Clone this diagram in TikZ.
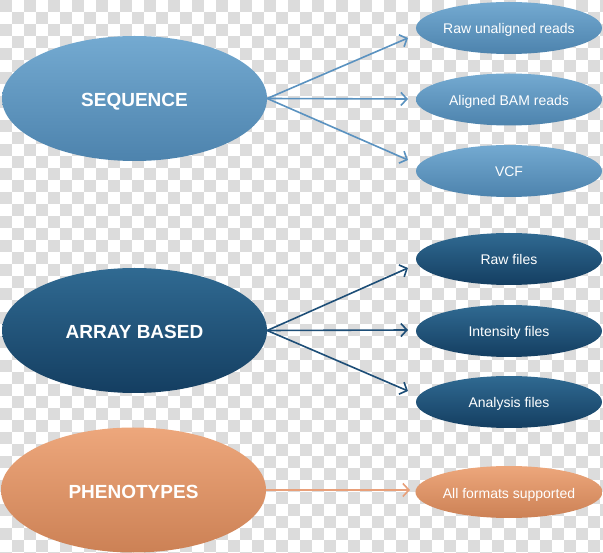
\documentclass[tikz,border=0pt]{standalone}
\usepackage{fontspec}
\setmainfont{Liberation Sans}
\usetikzlibrary{shapes.geometric,arrows.meta}
\definecolor{chk}{HTML}{DCDCDC}
\definecolor{lbTop}{HTML}{74AAD1}
\definecolor{lbBot}{HTML}{4D83AD}
\definecolor{dbTop}{HTML}{306A92}
\definecolor{dbBot}{HTML}{143E61}
\definecolor{orTop}{HTML}{EDA77C}
\definecolor{orBot}{HTML}{CC8155}
\definecolor{lbLine}{HTML}{5A92C0}
\definecolor{dbLine}{HTML}{1D4E77}
\definecolor{orLine}{HTML}{E8A07A}
\tikzset{
  bigell/.style={ellipse, inner sep=0pt, minimum width=265pt, minimum height=125pt,
    text=white, text height=17pt, text depth=0pt, font=\fontsize{19}{19}\selectfont\bfseries},
  smallell/.style={ellipse, inner sep=0pt, minimum width=186pt, minimum height=52pt,
    text=white, text height=13pt, text depth=1pt, font=\fontsize{14}{14}\selectfont},
  light/.style={top color=lbTop, bottom color=lbBot},
  dark/.style={top color=dbTop, bottom color=dbBot},
  orange/.style={top color=orTop, bottom color=orBot},
  conn/.style={line width=1.6pt, -{Straight Barb[length=6pt,width=13pt,line width=1.6pt]}},
}
\begin{document}
\begin{tikzpicture}[x=1pt,y=-1pt]
\useasboundingbox (0,0) rectangle (603,553);
\begin{scope}
\clip (0,0) rectangle (603,553);
\fill[white] (0,0) rectangle (603,553);
\foreach \j in {0,...,46}{
  \foreach \i in {0,...,25}{
    \fill[chk] ({(2*\i+mod(\j,2))*12},{\j*12}) rectangle ++(12,12);
  }
}
\end{scope}

% main ellipses
\node[bigell, light] (seq) at (134.5,98.5) {SEQUENCE};
\node[bigell, dark] (arr) at (134.5,330.5) {ARRAY BASED};
\node[bigell, orange] (phe) at (133.5,490) {PHENOTYPES};

% small ellipses
\node[smallell, light] (r1) at (509,28) {Raw unaligned reads};
\node[smallell, light] (r2) at (509,99.5) {Aligned BAM reads};
\node[smallell, light] (r3) at (509,171) {VCF};
\node[smallell, dark] (a1) at (509,259) {Raw files};
\node[smallell, dark] (a2) at (509,331) {Intensity files};
\node[smallell, dark] (a3) at (509,402) {Analysis files};
\node[smallell, orange] (p1) at (509,492) {All formats supported};

% arrow tips
\coordinate (t1) at (408,38);
\coordinate (t2) at (408,99);
\coordinate (t3) at (408,160);
\coordinate (u1) at (408,268);
\coordinate (u2) at (408,330);
\coordinate (u3) at (408,391);
\coordinate (v1) at (410,490);

\draw[conn, lbLine] (seq.east) -- (t1);
\draw[conn, lbLine] (seq.east) -- (t2);
\draw[conn, lbLine] (seq.east) -- (t3);
\draw[conn, dbLine] (arr.east) -- (u1);
\draw[conn, dbLine] (arr.east) -- (u2);
\draw[conn, dbLine] (arr.east) -- (u3);
\draw[conn, orLine] (phe.east) -- (v1);
\end{tikzpicture}
\end{document}
